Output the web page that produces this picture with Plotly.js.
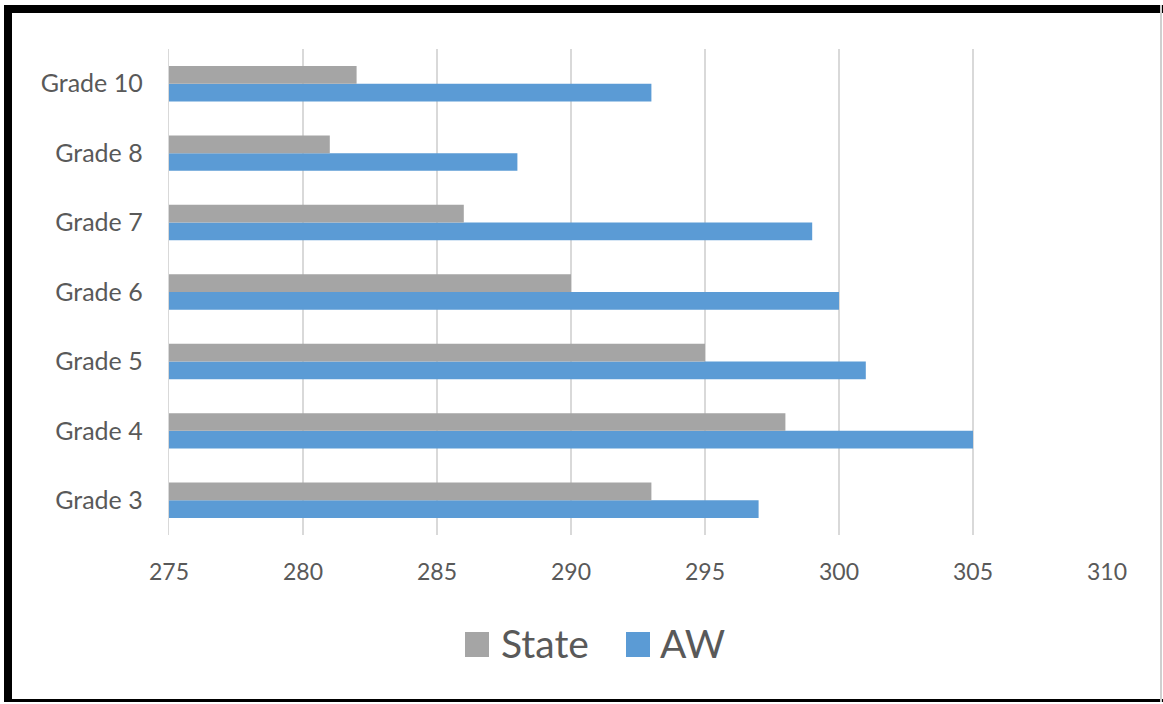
<!DOCTYPE html>
<html>
<head>
<meta charset="utf-8">
<script src="https://cdn.plot.ly/plotly-3.0.1.min.js"></script>
<style>
  html, body { margin: 0; padding: 0; background: #fff; }
  #wrap { position: relative; width: 1163px; height: 704px; overflow: hidden; }
  #chart { position: absolute; left: 0; top: 0; width: 1163px; height: 704px; }
  .bl { position: absolute; background: #000; z-index: 5; }
</style>
</head>
<body>
<div id="wrap">
  <div id="chart"></div>
  <div class="bl" style="left:4px; top:5px; width:1159px; height:8px;"></div>
  <div class="bl" style="left:4px; top:5px; width:8px; height:697px;"></div>
  <div class="bl" style="left:4px; top:699px; width:1159px; height:3px;"></div>
  <div class="bl" style="left:1160px; top:5px; width:2px; height:697px; background:#cfcfcf;"></div>
</div>
<script>
const categories = ['Grade 3', 'Grade 4', 'Grade 5', 'Grade 6', 'Grade 7', 'Grade 8', 'Grade 10'];
const stateValues = [293, 298, 295, 290, 286, 281, 282];
const awValues = [297, 305, 301, 300, 299, 288, 293];
const xTicks = [275, 280, 285, 290, 295, 300, 305, 310];
const seriesNames = ['State', 'AW'];

const W = 1163, H = 704;
const L = 169, R = 1107, T = 49, B = 535;
const px = x => (x - L) / (R - L);
const py = y => (B - y) / (B - T);

const font = "Lato, 'Open Sans', 'Liberation Sans', sans-serif";

const traces = [
  {
    type: 'bar', orientation: 'h', name: seriesNames[1],
    y: categories, x: awValues,
    marker: { color: '#5B9BD5' }, hoverinfo: 'x+y'
  },
  {
    type: 'bar', orientation: 'h', name: seriesNames[0],
    y: categories, x: stateValues,
    marker: { color: '#A5A5A5' }, hoverinfo: 'x+y'
  }
];

const layout = {
  width: W, height: H,
  margin: { l: L, r: W - R, t: T, b: H - B, pad: 0 },
  paper_bgcolor: '#ffffff', plot_bgcolor: '#ffffff',
  barmode: 'group', bargap: 0.49, bargroupgap: 0,
  showlegend: false,
  font: { family: font, color: '#595959', size: 22 },
  xaxis: {
    range: [275, 310], tickvals: xTicks, ticktext: xTicks.map(String),
    showgrid: true, gridcolor: '#D9D9D9', gridwidth: 1.3,
    zeroline: false, showline: false, ticks: '',
    tickfont: { size: 23, color: '#595959', family: font },
    ticklabelstandoff: 21, fixedrange: true
  },
  yaxis: {
    type: 'category', categoryorder: 'array', categoryarray: categories,
    showgrid: false, zeroline: false,
    showline: true, linecolor: '#D9D9D9', linewidth: 1.3,
    ticks: '', ticklabelstandoff: 20,
    tickfont: { size: 25, color: '#595959', family: font },
    fixedrange: true
  },
  shapes: [
    { type: 'rect', xref: 'paper', yref: 'paper', x0: px(465), x1: px(489), y0: py(657), y1: py(632),
      fillcolor: '#A5A5A5', line: { width: 0 } },
    { type: 'rect', xref: 'paper', yref: 'paper', x0: px(626), x1: px(650), y0: py(657), y1: py(632),
      fillcolor: '#5B9BD5', line: { width: 0 } }
  ],
  annotations: [
    { xref: 'paper', yref: 'paper', x: px(499), y: py(643), xanchor: 'left', yanchor: 'middle',
      text: seriesNames[0], showarrow: false, font: { size: 39, color: '#595959', family: font } },
    { xref: 'paper', yref: 'paper', x: px(658), y: py(643), xanchor: 'left', yanchor: 'middle',
      text: seriesNames[1], showarrow: false, font: { size: 39, color: '#595959', family: font } }
  ]
};

Plotly.newPlot('chart', traces, layout, { displayModeBar: false, staticPlot: true });
</script>
</body>
</html>
